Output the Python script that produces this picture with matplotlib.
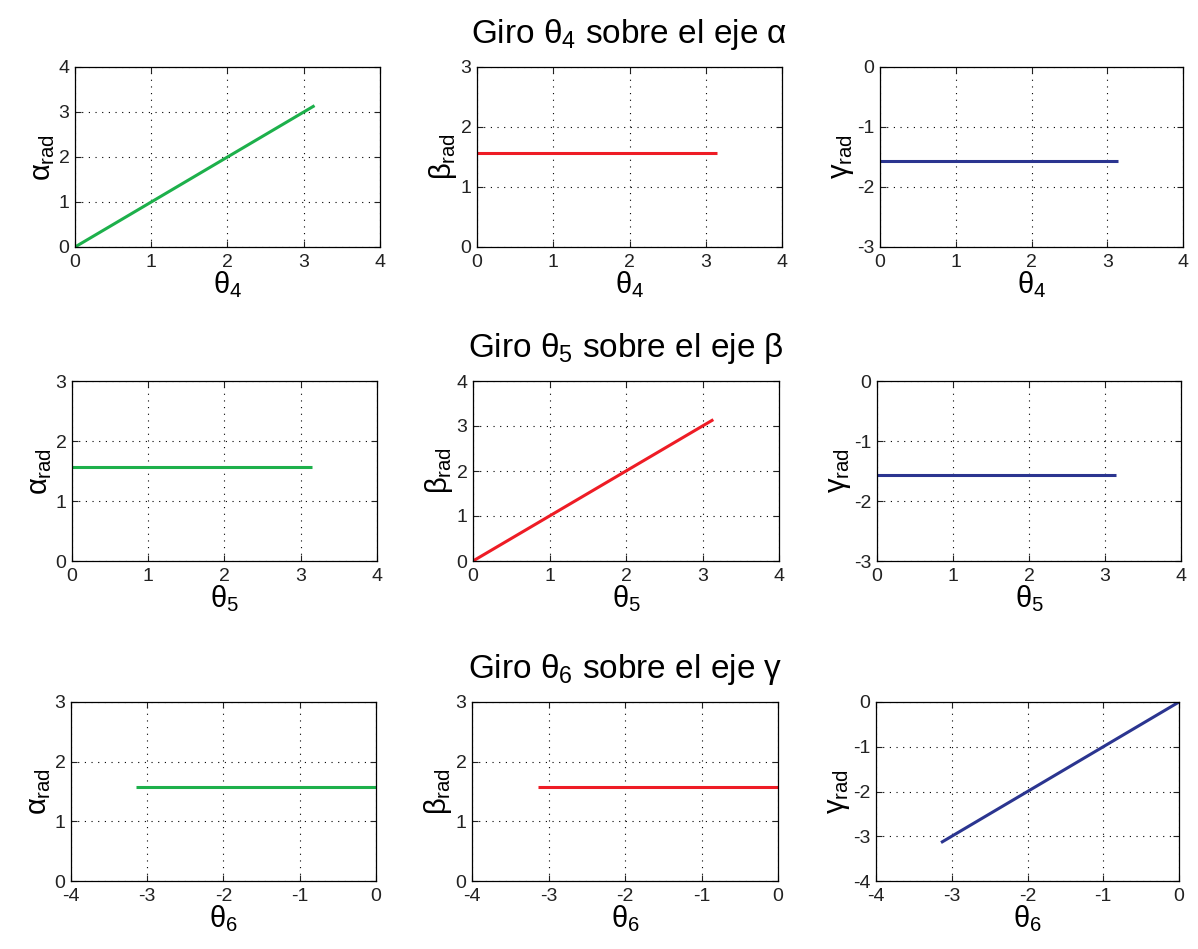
import matplotlib
matplotlib.use("Agg")
import matplotlib.pyplot as plt

plt.rcParams["font.family"] = ["Liberation Sans", "DejaVu Sans"]
plt.rcParams["mathtext.fontset"] = "custom"
plt.rcParams["mathtext.rm"] = "Liberation Sans"
plt.rcParams["mathtext.it"] = "Liberation Sans"
plt.rcParams["mathtext.bf"] = "Liberation Sans"
plt.rcParams["axes.unicode_minus"] = False

GREEN = "#1db04b"
RED = "#ee1c25"
BLUE = "#2b3590"

# joint angle sweeps (rad), endpoints
theta_pos = [0.0, 3.1416]
theta_neg = [-3.1416, 0.0]

# row 1: rotation theta4 about alpha
r1_alpha = [0.0, 3.1416]
r1_beta = [1.5708, 1.5708]
r1_gamma = [-1.5708, -1.5708]
# row 2: rotation theta5 about beta
r2_alpha = [1.5708, 1.5708]
r2_beta = [0.0, 3.1416]
r2_gamma = [-1.5708, -1.5708]
# row 3: rotation theta6 about gamma
r3_alpha = [1.5708, 1.5708]
r3_beta = [1.5708, 1.5708]
r3_gamma = [-3.1416, 0.0]

row_titles = [r"Giro $\theta_4$ sobre el eje $\alpha$",
              r"Giro $\theta_5$ sobre el eje $\beta$",
              r"Giro $\theta_6$ sobre el eje $\gamma$"]
xlabels = [r"$\theta_4$", r"$\theta_5$", r"$\theta_6$"]
ylabels = [r"$\alpha_{rad}$", r"$\beta_{rad}$", r"$\gamma_{rad}$"]

W, H = 1198, 949
# axes boxes in pixels: left, right, top, bottom
boxes = [
    [(75, 380, 67, 247), (477, 782, 67, 247), (880, 1183, 67, 247)],
    [(72, 377, 381, 561), (473, 779, 381, 561), (877, 1181, 381, 561)],
    [(71, 376, 702, 881), (472, 778, 702, 881), (876, 1179, 702, 881)],
]

panels = [
    [(theta_pos, r1_alpha, GREEN, (0, 4), (0, 4)),
     (theta_pos, r1_beta, RED, (0, 4), (0, 3)),
     (theta_pos, r1_gamma, BLUE, (0, 4), (-3, 0))],
    [(theta_pos, r2_alpha, GREEN, (0, 4), (0, 3)),
     (theta_pos, r2_beta, RED, (0, 4), (0, 4)),
     (theta_pos, r2_gamma, BLUE, (0, 4), (-3, 0))],
    [(theta_neg, r3_alpha, GREEN, (-4, 0), (0, 3)),
     (theta_neg, r3_beta, RED, (-4, 0), (0, 3)),
     (theta_neg, r3_gamma, BLUE, (-4, 0), (-4, 0))],
]

fig = plt.figure(figsize=(W / 100, H / 100), dpi=100)

for r in range(3):
    for c in range(3):
        l, rt, t, b = boxes[r][c]
        ax = fig.add_axes([l / W, 1 - b / H, (rt - l) / W, (b - t) / H])
        x, y, col, xl, yl = panels[r][c]
        ax.plot(x, y, color=col, lw=2.2, solid_capstyle="butt")
        ax.set_xlim(*xl)
        ax.set_ylim(*yl)
        ax.set_xticks(range(xl[0], xl[1] + 1))
        ax.set_yticks(range(yl[0], yl[1] + 1))
        ax.grid(True, color="black", ls=(0, (1, 5)), lw=0.8)
        ax.tick_params(direction="in", top=True, right=True, length=4,
                       width=0.8, labelsize=14, colors="#222222")
        ax.tick_params(axis="x", pad=5)
        ax.tick_params(axis="y", pad=4)
        for sp in ax.spines.values():
            sp.set_linewidth(0.9)
        ax.set_xlabel(xlabels[r], fontsize=21, labelpad=-1)
        ax.set_ylabel(ylabels[c], fontsize=21, labelpad=1)
        if c == 1:
            ax.set_title(row_titles[r], fontsize=24, pad=17)

fig.savefig("out.png", dpi=100)
plt.close(fig)
